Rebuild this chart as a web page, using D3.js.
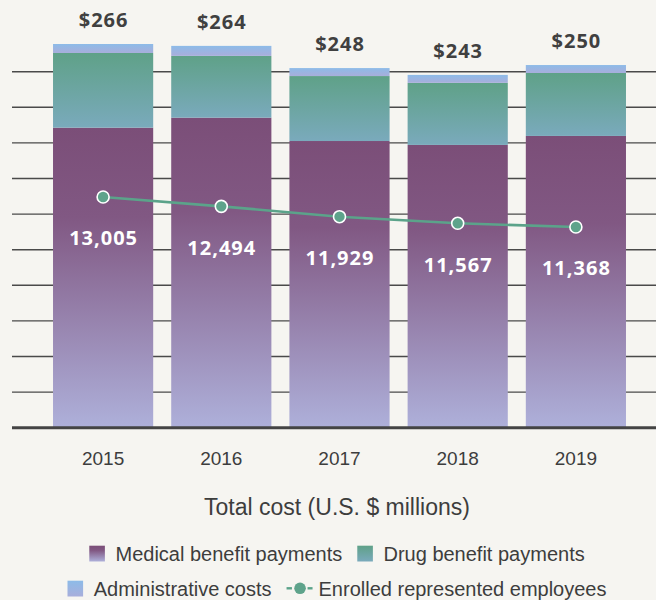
<!DOCTYPE html>
<html>
<head>
<meta charset="utf-8">
<script src="https://cdnjs.cloudflare.com/ajax/libs/d3/7.8.5/d3.min.js"></script>
<style>
  html, body { margin: 0; padding: 0; background: #f6f5f1; }
  svg { display: block; }
  .xlab { font-family: "Liberation Sans", sans-serif; font-size: 19px; fill: #3d3d3d; }
  .title { font-family: "Liberation Sans", sans-serif; font-size: 23px; fill: #3d3d3d; }
  .legend text { font-family: "Liberation Sans", sans-serif; font-size: 20px; fill: #3d3d3d; }
  .total { font-family: "Open Sans", sans-serif; font-weight: 700; font-size: 20px; letter-spacing: 1px; fill: #404040; }
  .count { font-family: "Open Sans", sans-serif; font-weight: 700; font-size: 20px; letter-spacing: 1px; fill: #ffffff; }
</style>
</head>
<body>
<svg width="656" height="600"></svg>
<script>
// data
var years = ["2015", "2016", "2017", "2018", "2019"];
var medical = [206.9, 213.8, 197.7, 195.0, 201.2];
var drug = [51.5, 42.6, 44.8, 42.8, 43.4];
var admin = [6.2, 6.9, 5.5, 5.5, 5.5];
var totalCost = [266, 264, 248, 243, 250];
var employees = [13005, 12494, 11929, 11567, 11368];
var seriesKeys = ["medical", "drug", "admin"];
var legendRow1 = ["Medical benefit payments", "Drug benefit payments"];
var legendRow2 = ["Administrative costs", "Enrolled represented employees"];
var titleText = "Total cost (U.S. $ millions)";

var svg = d3.select("svg");
var baseY = 427.7, topY = 71.7, yMax = 245.5;

var rows = years.map(function (yr, i) {
    return { year: yr, medical: medical[i], drug: drug[i], admin: admin[i], total: totalCost[i], emp: employees[i] };
});

var x = d3.scaleBand().domain(years).range([44, 635]).paddingInner(0.1525).paddingOuter(0.0763);
var y = d3.scaleLinear().domain([0, yMax]).range([baseY, topY]);
var yEmp = d3.scaleLinear().domain([11000, 13500]).range([233.7, 187.9]);

// gradients
var defs = svg.append("defs");
function grad(id, stops) {
    var g = defs.append("linearGradient").attr("id", id)
        .attr("x1", 0).attr("y1", 0).attr("x2", 0).attr("y2", 1);
    stops.forEach(function (s) {
        g.append("stop").attr("offset", s[0]).attr("stop-color", s[1]);
    });
}
grad("g-medical", [[0, "#7b4e78"], [0.3, "#815883"], [1, "#aeb0da"]]);
grad("g-drug", [[0, "#5fa188"], [1, "#7aaabc"]]);
grad("g-admin", [[0, "#8dbbe8"], [1, "#a8aedb"]]);
var fills = { medical: "url(#g-medical)", drug: "url(#g-drug)", admin: "url(#g-admin)" };

// gridlines
var gridVals = d3.range(1, 11).map(function (i) { return yMax * i / 10; });
svg.append("g").selectAll("line").data(gridVals).enter().append("line")
    .attr("x1", 12).attr("x2", 656)
    .attr("y1", function (d) { return y(d); })
    .attr("y2", function (d) { return y(d); })
    .attr("stroke", "#4a4a4a").attr("stroke-width", 1.4);

// stacked bars
var stacked = d3.stack().keys(seriesKeys)(rows);
svg.append("g").selectAll("g").data(stacked).enter().append("g")
    .attr("fill", function (d) { return fills[d.key]; })
    .selectAll("rect").data(function (d) { return d; }).enter().append("rect")
    .attr("x", function (d) { return x(d.data.year); })
    .attr("width", x.bandwidth())
    .attr("y", function (d) { return y(d[1]); })
    .attr("height", function (d) { return y(d[0]) - y(d[1]); });

// baseline
svg.append("line").attr("x1", 12).attr("x2", 656).attr("y1", baseY).attr("y2", baseY)
    .attr("stroke", "#444").attr("stroke-width", 3);

// totals above bars
var topLayer = stacked[stacked.length - 1];
svg.append("g").selectAll("text").data(topLayer).enter().append("text")
    .attr("class", "total").attr("text-anchor", "middle")
    .attr("x", function (d) { return x(d.data.year) + x.bandwidth() / 2 + 0.5; })
    .attr("y", function (d) { return y(d[1]) - 17; })
    .text(function (d) { return "$" + d.data.total; });

// employee line
var cx = function (d) { return x(d.year) + x.bandwidth() / 2; };
svg.append("path").datum(rows)
    .attr("fill", "none").attr("stroke", "#5ba38a").attr("stroke-width", 2.6)
    .attr("d", d3.line().x(cx).y(function (d) { return yEmp(d.emp); }));
svg.append("g").selectAll("circle").data(rows).enter().append("circle")
    .attr("cx", cx).attr("cy", function (d) { return yEmp(d.emp); })
    .attr("r", 6).attr("fill", "#5ea38b").attr("stroke", "#fff").attr("stroke-width", 1.6);
svg.append("g").selectAll("text").data(rows).enter().append("text")
    .attr("class", "count").attr("text-anchor", "middle")
    .attr("x", function (d) { return cx(d) + 0.5; })
    .attr("y", function (d) { return yEmp(d.emp) + 48.5; })
    .text(function (d) { return d3.format(",")(d.emp); });

// x labels
svg.append("g").selectAll("text").data(years).enter().append("text")
    .attr("class", "xlab").attr("text-anchor", "middle")
    .attr("x", function (d) { return x(d) + x.bandwidth() / 2; })
    .attr("y", 465)
    .text(function (d) { return d; });

svg.append("text").attr("class", "title").attr("text-anchor", "middle")
    .attr("x", 337).attr("y", 514.5).text(titleText);

// legend
var legend = svg.append("g").attr("class", "legend");
function legendRow(items, baseline) {
    var g = legend.append("g");
    var cursor = 0;
    items.forEach(function (it, i) {
        if (i > 0) cursor += 15;
        if (it.swatch) {
            g.append("rect").attr("x", cursor).attr("y", baseline - 15.3)
                .attr("width", 15.6).attr("height", 15.8).attr("fill", fills[it.swatch]);
            cursor += 15.6 + 10.6;
        } else {
            var my = baseline - 7.7;
            g.append("line").attr("x1", cursor).attr("x2", cursor + 5.4).attr("y1", my).attr("y2", my)
                .attr("stroke", "#5ba38a").attr("stroke-width", 2.4);
            g.append("circle").attr("cx", cursor + 13.5).attr("cy", my).attr("r", 5.8).attr("fill", "#5ea38b");
            g.append("line").attr("x1", cursor + 21).attr("x2", cursor + 26).attr("y1", my).attr("y2", my)
                .attr("stroke", "#5ba38a").attr("stroke-width", 2.4);
            cursor += 26 + 6;
        }
        var t = g.append("text").attr("x", cursor).attr("y", baseline).text(it.label);
        cursor += t.node().getComputedTextLength();
    });
    g.attr("transform", "translate(" + (337 - cursor / 2) + ",0)");
}
legendRow([
    { swatch: "medical", label: legendRow1[0] },
    { swatch: "drug", label: legendRow1[1] }
], 561);
legendRow([
    { swatch: "admin", label: legendRow2[0] },
    { swatch: null, label: legendRow2[1] }
], 596);
</script>
</body>
</html>
